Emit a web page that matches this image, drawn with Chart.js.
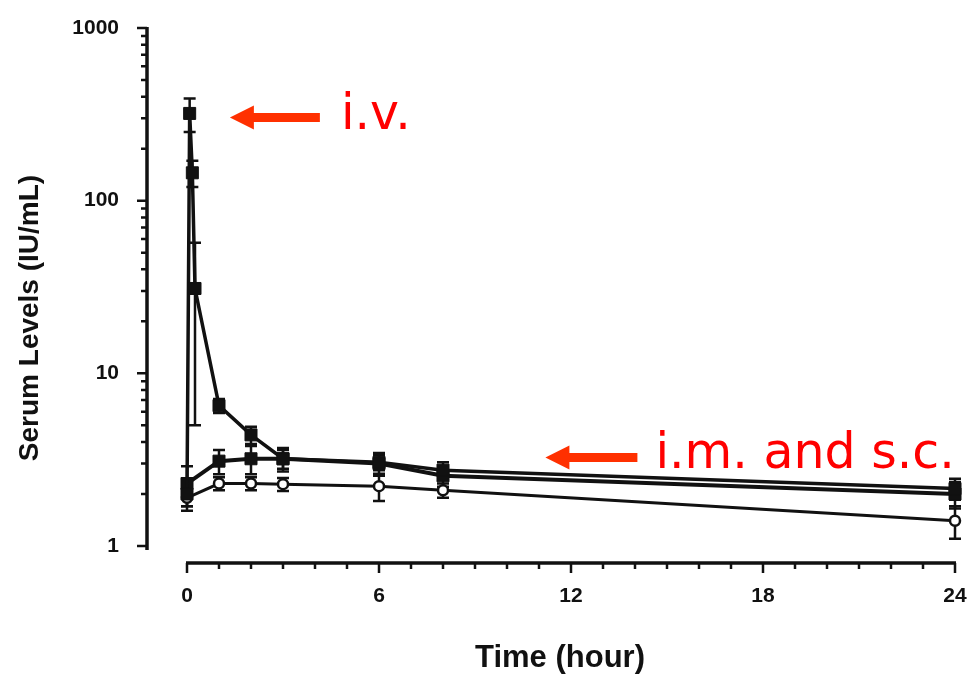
<!DOCTYPE html>
<html><head><meta charset="utf-8">
<script src="https://cdn.jsdelivr.net/npm/chart.js@4"></script>
<style>html,body{margin:0;padding:0;background:#fff}#wrap{width:967px;height:675px}</style>
</head><body><div id="wrap"><canvas id="c" width="967" height="675"></canvas></div>
<script>
// ---- data ----
const ivTime  = [0, 0.083, 0.167, 0.25, 1, 2, 3, 6, 8, 24];
const ivLevel = [2.0, 320, 145, 31, 6.5, 4.4, 3.2, 3.05, 2.75, 2.15];
const ivSD    = [0.3, 70, 25, 26, 0.6, 0.5, 0.4, 0.3, 0.3, 0.3];

const imTime  = [0, 1, 2, 3, 6, 8, 24];
const imLevel = [2.3, 3.1, 3.2, 3.2, 3.0, 2.55, 2.0];
const imSD    = [0.6, 0.5, 0.6, 0.5, 0.45, 0.35, 0.35];

const scTime  = [0, 1, 2, 3, 6, 8, 24];
const scLevel = [1.9, 2.3, 2.3, 2.28, 2.22, 2.1, 1.4];
const scSD    = [0.3, 0.2, 0.2, 0.2, 0.4, 0.2, 0.3];

const xTicks = [0, 6, 12, 18, 24];
const yTicks = [1, 10, 100, 1000];

const xTitle = 'Time (hour)';
const yTitle = 'Serum Levels (IU/mL)';
const ivLabel = 'i.v.';
const imscLabel = 'i.m. and s.c.';

const INK = '#111';
const tickFont = {family: "'Liberation Sans', Arial, sans-serif", size: 21, weight: 'bold'};

function pts(t, v) { return t.map((x, i) => ({x: x, y: v[i]})); }

const errorBars = {
  id: 'errorBars',
  beforeDatasetsDraw(chart) {
    const {ctx, scales: {x, y}} = chart;
    chart.data.datasets.forEach(ds => {
      if (!ds.sd) return;
      ctx.save();
      ctx.strokeStyle = INK; ctx.lineWidth = 2.5;
      ds.data.forEach((p, i) => {
        const e = ds.sd[i];
        const px = x.getPixelForValue(p.x);
        const lo = y.getPixelForValue(Math.max(p.y - e, 0.85));
        const hi = y.getPixelForValue(p.y + e);
        ctx.beginPath();
        ctx.moveTo(px, lo); ctx.lineTo(px, hi);
        ctx.moveTo(px - 6, lo); ctx.lineTo(px + 6, lo);
        ctx.moveTo(px - 6, hi); ctx.lineTo(px + 6, hi);
        ctx.stroke();
      });
      ctx.restore();
    });
  }
};

const axesPlugin = {
  id: 'axesPlugin',
  beforeDatasetsDraw(chart) {
    const {ctx, chartArea, scales: {x, y}} = chart;
    ctx.save();
    ctx.strokeStyle = INK;
    // y axis
    const ax = chartArea.left;
    ctx.lineWidth = 3.5;
    ctx.beginPath();
    ctx.moveTo(ax, y.getPixelForValue(1000) - 1);
    ctx.lineTo(ax, y.getPixelForValue(1) + 4);
    ctx.stroke();
    ctx.lineWidth = 2.5;
    ctx.beginPath();
    yTicks.forEach(v => { const py = y.getPixelForValue(v); ctx.moveTo(ax - 10, py); ctx.lineTo(ax, py); });
    for (let d = 1; d < 1000; d *= 10) {
      for (let k = 2; k <= 9; k++) { const py = y.getPixelForValue(k * d); ctx.moveTo(ax - 6, py); ctx.lineTo(ax, py); }
    }
    ctx.stroke();
    // x axis
    const ay = chartArea.bottom;
    ctx.lineWidth = 3.5;
    ctx.beginPath();
    ctx.moveTo(x.getPixelForValue(0) - 1, ay);
    ctx.lineTo(x.getPixelForValue(24) + 1, ay);
    ctx.stroke();
    ctx.lineWidth = 2.5;
    ctx.beginPath();
    for (let h = 0; h <= 24; h++) {
      const px = x.getPixelForValue(h);
      const len = xTicks.includes(h) ? 10 : 6;
      ctx.moveTo(px, ay); ctx.lineTo(px, ay + len);
    }
    ctx.stroke();
    // axis titles
    ctx.fillStyle = INK;
    ctx.textAlign = 'center';
    ctx.textBaseline = 'middle';
    ctx.font = "bold 31px 'Liberation Sans', Arial, sans-serif";
    ctx.fillText(xTitle, 560, 658);
    ctx.font = "bold 28px 'Liberation Sans', Arial, sans-serif";
    ctx.save();
    ctx.translate(30, 318);
    ctx.rotate(-Math.PI / 2);
    ctx.fillText(yTitle, 0, 0);
    ctx.restore();
    ctx.restore();
  }
};

function arrow(ctx, tipX, tipY, len) {
  ctx.beginPath();
  ctx.moveTo(tipX, tipY);
  ctx.lineTo(tipX + 24, tipY - 12);
  ctx.lineTo(tipX + 24, tipY - 4.5);
  ctx.lineTo(tipX + len, tipY - 4.5);
  ctx.lineTo(tipX + len, tipY + 4.5);
  ctx.lineTo(tipX + 24, tipY + 4.5);
  ctx.lineTo(tipX + 24, tipY + 12);
  ctx.closePath();
  ctx.fill();
}

const notes = {
  id: 'notes',
  afterDraw(chart) {
    const {ctx, scales: {x, y}} = chart;
    ctx.save();
    ctx.fillStyle = '#ff3000';
    const t1x = x.getPixelForValue(1.34), t1y = y.getPixelForValue(303);
    arrow(ctx, t1x, t1y, 90);
    const t2x = x.getPixelForValue(11.2), t2y = y.getPixelForValue(3.25);
    arrow(ctx, t2x, t2y, 92);
    ctx.fillStyle = '#ff0000';
    ctx.font = "49px 'DejaVu Sans', sans-serif";
    ctx.textBaseline = 'alphabetic';
    ctx.textAlign = 'left';
    ctx.fillText(ivLabel, t1x + 111, t1y + 11.5);
    ctx.fillText(imscLabel, t2x + 110, t2y + 10.5);
    ctx.restore();
  }
};

new Chart(document.getElementById('c'), {
  type: 'line',
  data: {
    datasets: [
      {label: 'i.v.', data: pts(ivTime, ivLevel), sd: ivSD, borderColor: INK, borderWidth: 3.5,
       pointStyle: 'rect', pointRadius: 8.5, pointBackgroundColor: INK, pointBorderColor: INK, pointBorderWidth: 1, clip: false},
      {label: 'i.m.', data: pts(imTime, imLevel), sd: imSD, borderColor: INK, borderWidth: 4,
       pointStyle: 'rect', pointRadius: 8.5, pointBackgroundColor: INK, pointBorderColor: INK, pointBorderWidth: 1, clip: false},
      {label: 's.c.', data: pts(scTime, scLevel), sd: scSD, borderColor: INK, borderWidth: 3,
       pointStyle: 'circle', pointRadius: 5, pointBackgroundColor: '#fff', pointBorderColor: INK, pointBorderWidth: 2.5, clip: false}
    ]
  },
  options: {
    responsive: false, animation: false, devicePixelRatio: 1,
    layout: {padding: {left: 0, top: 28, right: 12, bottom: 0}},
    plugins: {legend: {display: false}, tooltip: {enabled: false}},
    elements: {line: {tension: 0}},
    scales: {
      x: {
        type: 'linear', min: -1.25, max: 24,
        grid: {display: false, drawTicks: false}, border: {display: false},
        ticks: {padding: 21, font: tickFont, color: INK, maxRotation: 0, autoSkip: false, callback: v => String(v)},
        title: {display: false},
        afterBuildTicks: s => { s.ticks = xTicks.map(v => ({value: v})); },
        afterFit: s => { s.height = 112; s.paddingLeft = 0; s.paddingRight = 0; }
      },
      y: {
        type: 'logarithmic', min: 0.797, max: 1000,
        grid: {display: false, drawTicks: false}, border: {display: false},
        ticks: {padding: 28, font: tickFont, color: INK, autoSkip: false, callback: v => String(v)},
        title: {display: false},
        afterBuildTicks: s => { s.ticks = yTicks.map(v => ({value: v})); },
        afterFit: s => { s.width = 147; s.paddingTop = 0; s.paddingBottom = 0; }
      }
    }
  },
  plugins: [axesPlugin, errorBars, notes]
});
</script>
</body></html>
